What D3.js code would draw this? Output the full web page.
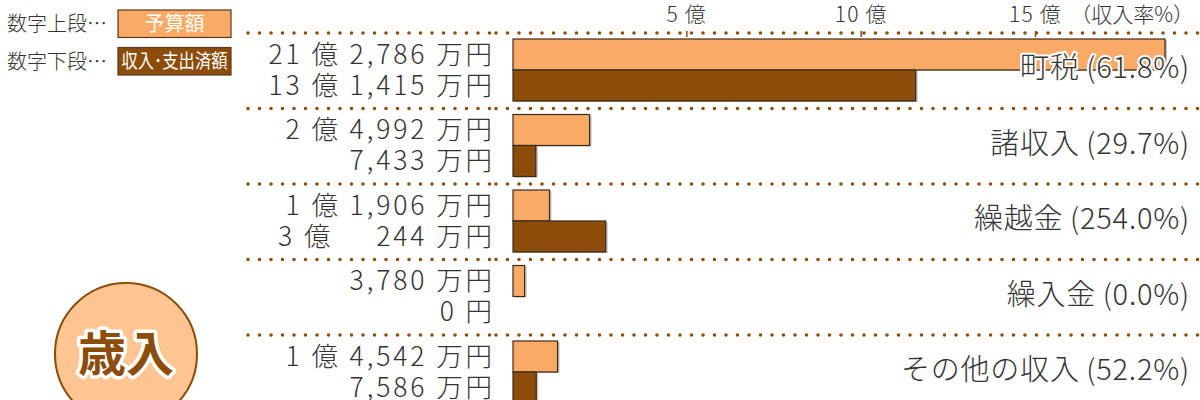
<!DOCTYPE html>
<html><head><meta charset="utf-8">
<script src="https://cdn.jsdelivr.net/npm/d3@7"></script>
<style>
body{margin:0;background:#fff;}
svg{display:block;font-family:"Noto Sans CJK JP","Noto Sans",sans-serif;}
</style></head>
<body>
<svg id="chart" width="1200" height="400"></svg>
<script>
// ---- data (万円) ----
const categories = ["町税", "諸収入", "繰越金", "繰入金", "その他の収入"];
const budget = [212786, 24992, 11906, 3780, 14542];   // 予算額
const actual = [131415, 7433, 30244, 0, 7586];        // 収入・支出済額
const rates = [61.8, 29.7, 254.0, 0.0, 52.2];         // 収入率%
const axisTicks = [5, 10, 15];                        // 億
const legendLabels = ["数字上段…", "数字下段…"];
const legendNames = ["予算額", "収入･支出済額"];

const C_LIGHT = "#FAAA67", C_DARK = "#8C4C0A", C_TEXT = "#333";
const svg = d3.select("#chart");

// scales
const xBar = d3.scaleLinear().domain([0, 212786]).range([513, 1165]);
const xAxisScale = d3.scaleLinear().domain([0, 15]).range([512, 1035]);
const yRow = d3.scaleBand().domain(categories).range([33, 33 + 75.5 * categories.length]);

function fmt(v) {
  const oku = Math.floor(v / 10000), man = v % 10000;
  if (v === 0) return "0 円";
  if (oku === 0) return d3.format(",")(man) + " 万円";
  let m = d3.format(",")(man);
  while (m.length < 5) m = "\u2007" + m;
  return oku + " 億 " + m + " 万円";
}

// dotted separators
const dotted = (y) => {
  [[248, 494], [496, 1200]].forEach(([a, b]) => {
    svg.append("line").attr("x1", a).attr("x2", b).attr("y1", y).attr("y2", y)
      .attr("stroke", C_DARK).attr("stroke-width", 3.6)
      .attr("stroke-linecap", "round").attr("stroke-dasharray", "0 11.5");
  });
};
categories.forEach(c => dotted(yRow(c)));

// axis
const axis = d3.axisTop(xAxisScale).tickValues(axisTicks)
  .tickFormat(d => d + " 億").tickSize(6).tickPadding(9);
const ag = svg.append("g").attr("transform", "translate(0,37)").call(axis);
ag.select(".domain").remove();
ag.selectAll(".tick line").attr("stroke", C_DARK).attr("stroke-width", 1.5);
ag.selectAll(".tick text").attr("fill", C_TEXT).attr("font-size", 21)
  .attr("letter-spacing", 1.2)
  .attr("font-family", "'Noto Sans CJK JP',sans-serif").attr("font-weight", 300);
svg.append("text").attr("x", 1194).attr("y", 22).attr("text-anchor", "end")
  .attr("font-size", 21).attr("font-weight", 300).attr("fill", C_TEXT).text("（収入率%）");

// bars
const rows = svg.append("g");
categories.forEach((c, i) => {
  const top = yRow(c);
  const series = [[budget[i], C_LIGHT, top + 6], [actual[i], C_DARK, top + 37]];
  series.forEach(([v, col, y]) => {
    const w = xBar(v) - xBar(0);
    if (w > 0) {
      rows.append("rect").attr("x", xBar(0) + 2).attr("y", y + 1).attr("width", w).attr("height", 31)
        .attr("fill", "#999").attr("opacity", 0.6);
      rows.append("rect").attr("x", xBar(0)).attr("y", y).attr("width", w).attr("height", 31)
        .attr("fill", col).attr("stroke", "#3a2a1a").attr("stroke-width", 1.2);
    }
    rows.append("text").attr("x", 495).attr("y", y + 15).attr("dy", "0.36em")
      .attr("text-anchor", "end").attr("font-size", 26.5).attr("font-weight", 300)
      .attr("letter-spacing", 2.9).attr("fill", C_TEXT).text(fmt(v));
  });
  rows.append("text").attr("x", 1190).attr("y", top + 35).attr("dy", "0.36em")
    .attr("text-anchor", "end").attr("font-size", 29).attr("font-weight", 300)
    .attr("letter-spacing", 0.8)
    .attr("fill", C_TEXT).attr("stroke", "#fff").attr("stroke-width", 4)
    .attr("paint-order", "stroke").attr("stroke-linejoin", "round")
    .text(c + "\u2009(" + d3.format(".1f")(rates[i]) + "%)");
});

// legend
const lg = svg.append("g");
legendLabels.forEach((t, i) => {
  const y = 10 + i * 37.5;
  lg.append("text").attr("x", 7).attr("y", y + 14).attr("dy", "0.36em")
    .attr("font-size", 20).attr("font-weight", 300).attr("fill", C_TEXT).text(t);
  lg.append("rect").attr("x", 118).attr("y", y).attr("width", 113).attr("height", 27.5)
    .attr("fill", i === 0 ? C_LIGHT : C_DARK).attr("stroke", "#5a3a1a").attr("stroke-width", 1.2);
  const tt = lg.append("text").attr("x", 174.5).attr("y", y + 14).attr("dy", "0.36em")
    .attr("text-anchor", "middle").attr("font-size", i === 0 ? 20 : 19).attr("fill", "#fff").text(legendNames[i]);
  if (i === 1) tt.attr("textLength", 106).attr("lengthAdjust", "spacingAndGlyphs");
});

// circle badge
svg.append("circle").attr("cx", 126).attr("cy", 354).attr("r", 71)
  .attr("fill", "#FDC592").attr("stroke", C_DARK).attr("stroke-width", 2);
svg.append("text").attr("x", 126).attr("y", 354).attr("dy", "0.36em").attr("text-anchor", "middle")
  .attr("font-size", 48).attr("font-weight", 700).attr("fill", C_DARK)
  .attr("stroke", "#fff").attr("stroke-width", 7).attr("paint-order", "stroke")
  .attr("stroke-linejoin", "round").text("歳入");
</script>
</body></html>
